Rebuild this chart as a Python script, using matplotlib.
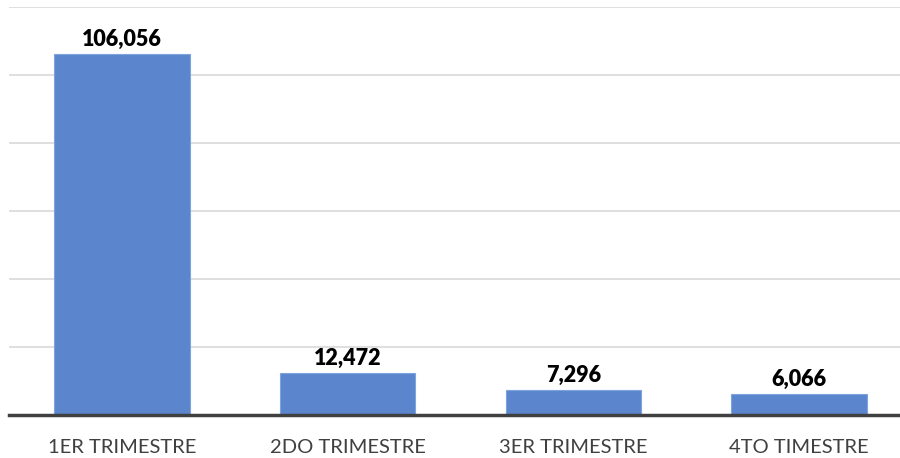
import matplotlib
matplotlib.use("Agg")
import matplotlib.pyplot as plt

categories = ["1ER TRIMESTRE", "2DO TRIMESTRE", "3ER TRIMESTRE", "4TO TIMESTRE"]
values = [106056, 12472, 7296, 6066]
labels = ["106,056", "12,472", "7,296", "6,066"]

plt.rcParams['font.family'] = ['Lato', 'DejaVu Sans']

fig = plt.figure(figsize=(9, 4.58), dpi=100)
W, H = 900, 458
ax = fig.add_axes([9.25 / W, (H - 415) / H, (911.75 - 9.25) / W, (415 - 7) / H])
x = range(len(categories))
ax.bar(x, values, width=0.6, color="#5B86CD", edgecolor="#7FA3DD", linewidth=0.8, zorder=2)
ax.set_xlim(-0.5, 3.5)
ax.set_ylim(0, 120000)
ax.set_yticks(range(0, 120001, 20000))
ax.yaxis.grid(True, color="#D9D9D9", linewidth=1.2, zorder=0)
ax.set_yticklabels([])
ax.tick_params(axis='y', length=0)
ax.tick_params(axis='x', length=0, pad=17, labelsize=14.5, labelcolor="#404040")
ax.set_xticks(list(x))
ax.set_xticklabels(categories)
for s in ["top", "right", "left"]:
    ax.spines[s].set_visible(False)
ax.spines["bottom"].set_color("#404040")
ax.spines["bottom"].set_linewidth(2.5)
ax.spines["bottom"].set_zorder(3)
for xi, v, lab in zip(x, values, labels):
    ax.annotate(lab, (xi, v), xytext=(0, 3), textcoords="offset points",
                ha="center", va="bottom", fontsize=15.5, fontweight="heavy", color="black")
fig.savefig("out.png", dpi=100)
